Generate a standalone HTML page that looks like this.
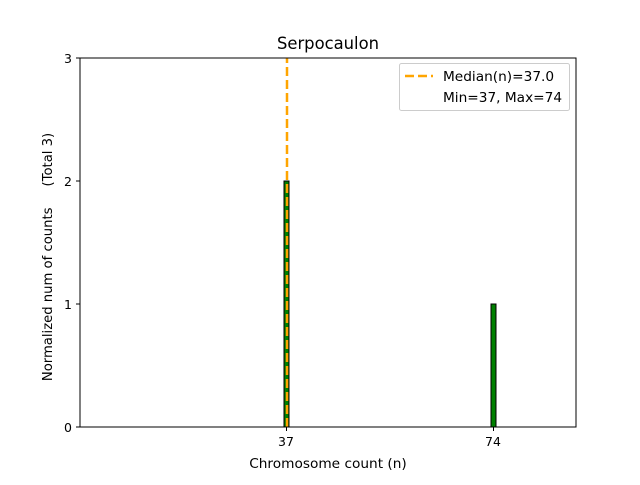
<!DOCTYPE html>
<html><head><style>body{margin:0;background:#fff}</style></head><body>
<svg width="640" height="480" xmlns="http://www.w3.org/2000/svg" font-family="DejaVu Sans, Liberation Sans, sans-serif">
<rect width="640" height="480" fill="#fff"/>
<rect x="284" y="181" width="5" height="246" fill="#008000" stroke="#000" stroke-width="1"/>
<rect x="491" y="304" width="5" height="123" fill="#008000" stroke="#000" stroke-width="1"/>
<line x1="287" y1="427" x2="287" y2="58" stroke="#FFA500" stroke-width="2.5" stroke-dasharray="9,4"/>
<rect x="80" y="58" width="496" height="369" fill="none" stroke="#000" stroke-width="1"/>
<g stroke="#000"><line x1="286.5" y1="427" x2="286.5" y2="431"/><line x1="493.5" y1="427" x2="493.5" y2="431"/>
<line x1="76" y1="427" x2="80" y2="427"/><line x1="76" y1="304" x2="80" y2="304"/><line x1="76" y1="181" x2="80" y2="181"/><line x1="76" y1="58" x2="80" y2="58"/></g>
<g font-size="12.5" fill="#000">
<text x="286" y="446" text-anchor="middle">37</text><text x="493" y="446" text-anchor="middle">74</text>
<text x="72" y="432" text-anchor="end">0</text><text x="72" y="309" text-anchor="end">1</text><text x="72" y="186" text-anchor="end">2</text><text x="72" y="63" text-anchor="end">3</text>
</g>
<g font-size="13.2" fill="#000">
<text x="328" y="468" text-anchor="middle" font-size="13.7">Chromosome count (n)</text>
<text transform="translate(52,257) rotate(-90)" text-anchor="middle" xml:space="preserve">Normalized num of counts     (Total 3)</text>
</g>
<text x="328" y="49" text-anchor="middle" font-size="16.4">Serpocaulon</text>
<rect x="399.5" y="63.5" width="170" height="47" rx="2" fill="#fff" fill-opacity="0.8" stroke="#ccc"/>
<line x1="405" y1="76" x2="433" y2="76" stroke="#FFA500" stroke-width="2.5" stroke-dasharray="9,4"/>
<g font-size="13.7" fill="#000"><text x="443" y="81">Median(n)=37.0</text><text x="443" y="102">Min=37, Max=74</text></g>
</svg>
</body></html>
